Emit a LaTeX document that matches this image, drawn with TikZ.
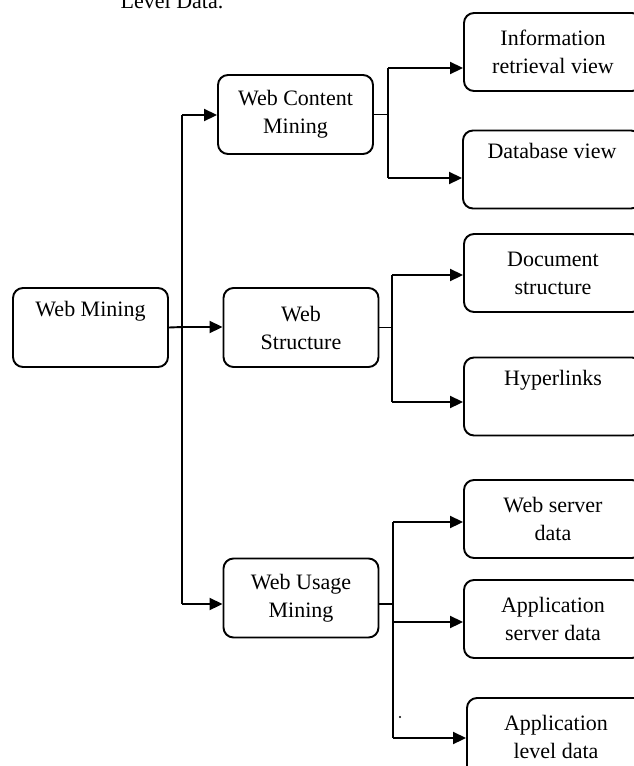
\documentclass[tikz,border=0pt]{standalone}
\usepackage{fontspec}
\setmainfont{Liberation Serif}
\usetikzlibrary{arrows.meta,positioning}

\begin{document}
\begin{tikzpicture}[x=0.5pt,y=-0.5pt]
	\tikzstyle{leftbox} = [
		draw,
		rounded corners=5pt,
		line width=0.95pt,
		align=center,
		inner sep=0pt,
		minimum width=77.5pt,
		minimum height=39.5pt,
		font=\fontsize{11}{14}\selectfont
	]
	\tikzstyle{leafbox} = [leftbox, minimum width=89pt, minimum height=39pt]
	\tikzstyle{link} = [line width=0.95pt]
	\tikzstyle{feed} = [link, -{Triangle[length=6.5pt,width=6pt]}]

	\useasboundingbox (0,0) rectangle (633,766);

	% cut-off line of text above the figure
	\node (caption) [anchor=base, font=\fontsize{11}{14}\selectfont] at (172,8) {Level Data.};

	\node (webmining) [style=leftbox] at (90.5,327.5) {Web Mining\\\strut};

	\node (content) [style=leftbox] at (295.5,114.5) {Web Content\\Mining};
	\node (structure) [style=leftbox] at (301,327.5) {Web\\Structure};
	\node (usage) [style=leftbox] at (301,598) {Web Usage\\Mining};

	\node (inforet) [style=leafbox] at (553,52) {Information\\retrieval view};
	\node (dbview) [style=leafbox] at (552,169.5) {Database view\\\strut};
	\node (docstruct) [style=leafbox] at (553,273) {Document\\structure};
	\node (hyperlinks) [style=leafbox] at (553,396.5) {Hyperlinks\\\strut};
	\node (webserver) [style=leafbox] at (553,519) {Web server\\data};
	\node (appserver) [style=leafbox] at (553,619) {Application\\server data};
	\node (applevel) [style=leafbox] at (556,737) {Application\\level data};

	% first split
	\coordinate (splitA) at (182,327);
	\coordinate (splitAtop) at (182,115);
	\coordinate (splitAbot) at (182,604);
	\draw [style=link] (webmining.east) -- (splitA);
	\draw [style=link] (splitAtop) -- (splitAbot);
	\draw [style=feed] (splitAtop) -- (splitAtop -| content.west);
	\draw [style=feed] (splitA) -- (splitA -| structure.west);
	\draw [style=feed] (splitAbot) -- (splitAbot -| usage.west);

	% content mining
	\coordinate (splitB) at (388,114.5);
	\coordinate (splitBtop) at (388,68);
	\coordinate (splitBbot) at (388,178);
	\draw [style=link] (content.east) -- (splitB);
	\draw [style=link] (splitBtop) -- (splitBbot);
	\draw [style=feed] (splitBtop) -- (splitBtop -| inforet.west);
	\draw [style=feed] (splitBbot) -- (splitBbot -| dbview.west);

	% structure
	\coordinate (splitC) at (392,327.5);
	\coordinate (splitCtop) at (392,275);
	\coordinate (splitCbot) at (392,402);
	\draw [style=link] (structure.east) -- (splitC);
	\draw [style=link] (splitCtop) -- (splitCbot);
	\draw [style=feed] (splitCtop) -- (splitCtop -| docstruct.west);
	\draw [style=feed] (splitCbot) -- (splitCbot -| hyperlinks.west);

	% usage mining
	\coordinate (splitD) at (393,604);
	\coordinate (splitDtop) at (393,522);
	\coordinate (splitDmid) at (393,622);
	\coordinate (splitDbot) at (393,738);
	\draw [style=link] (usage.east |- splitD) -- (splitD);
	\draw [style=link] (splitDtop) -- (splitDbot);
	\draw [style=feed] (splitDtop) -- (splitDtop -| webserver.west);
	\draw [style=feed] (splitDmid) -- (splitDmid -| appserver.west);
	\draw [style=feed] (splitDbot) -- (splitDbot -| applevel.west);

	\fill (400,717) circle (0.6pt);
\end{tikzpicture}
\end{document}
